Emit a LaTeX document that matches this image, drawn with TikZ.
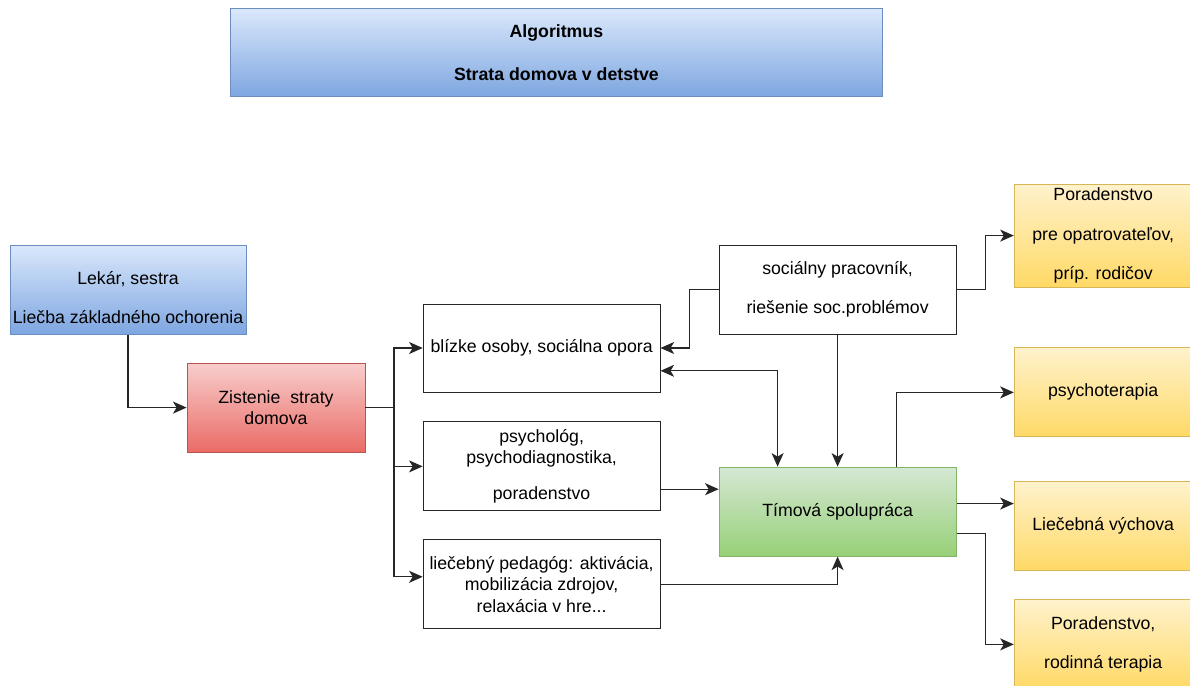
\documentclass[tikz,border=0pt]{standalone}
\usepackage{fontspec}
\setmainfont{Liberation Sans}
\usetikzlibrary{arrows.meta}
\definecolor{bluetop}{HTML}{DAE8FC}
\definecolor{bluebot}{HTML}{7EA6E0}
\definecolor{blueline}{HTML}{6C8EBF}
\definecolor{redtop}{HTML}{F8CECC}
\definecolor{redbot}{HTML}{EA6B66}
\definecolor{redline}{HTML}{B85450}
\definecolor{greentop}{HTML}{D5E8D4}
\definecolor{greenbot}{HTML}{97D077}
\definecolor{greenline}{HTML}{82B366}
\definecolor{yellowtop}{HTML}{FFF2CC}
\definecolor{yellowbot}{HTML}{FFD966}
\definecolor{yellowline}{HTML}{D6B656}
\newcommand\diafont{\fontsize{12.6}{15.3}\selectfont}
\begin{document}
\begin{tikzpicture}[font=\diafont, >={Stealth[length=0.34cm, width=0.3cm, inset=0.09cm]},
        box/.style={draw, align=center, minimum width=5.925cm, minimum height=2.225cm, inner sep=1pt, line width=0.6pt},
        whitebox/.style={box, draw=black!85},
        bluebox/.style={box, draw=blueline, top color=bluetop, bottom color=bluebot},
        redbox/.style={box, draw=redline, top color=redtop, bottom color=redbot, minimum width=4.45cm},
        greenbox/.style={box, draw=greenline, top color=greentop, bottom color=greenbot},
        yellowbox/.style={box, draw=yellowline, top color=yellowtop, bottom color=yellowbot, minimum width=4.45cm},
        line/.style={line width=0.8pt, draw=black!85},
        arr/.style={line, ->}, arr2/.style={line, <->}]
      \useasboundingbox (0,0) rectangle (29.75,17.15);
      \node[bluebox, minimum width=16.28cm, minimum height=2.2cm, font=\diafont\bfseries] (title) at (13.91,15.83) {Algoritmus\\[15.2pt]Strata domova v detstve};
      \node[bluebox, minimum width=5.9cm] (lekar) at (3.2,9.91) {\rule{0pt}{21pt}Lekár, sestra\\[12.6pt]Liečba základného ochorenia};
      \node[redbox] (zistenie) at (6.9,6.96) {Zistenie\ \ straty\\domova};
      \node[whitebox, minimum height=2.2cm] (blizke) at (13.54,8.45) {blízke osoby, sociálna opora};
      \node[whitebox] (psycholog) at (13.54,5.49) {psychológ,\\psychodiagnostika,\\[10.2pt]poradenstvo};
      \node[whitebox] (pedagog) at (13.54,2.54) {liečebný pedagóg: aktivácia,\\mobilizácia zdrojov,\\relaxácia v hre...};
      \node[whitebox] (socprac) at (20.94,9.91) {sociálny pracovník,\\[12.6pt]riešenie soc.problémov};
      \node[greenbox] (timova) at (20.94,4.36) {Tímová spolupráca};
      \node[yellowbox, minimum height=2.575cm] (poratr) at (27.58,11.26) {Poradenstvo\\[12.6pt]pre opatrovateľov,\\[12.6pt]príp. rodičov};
      \node[yellowbox] (psychoter) at (27.58,7.34) {psychoterapia};
      \node[yellowbox] (liecvych) at (27.58,4.0) {Liečebná výchova};
      \node[yellowbox] (rodter) at (27.58,1.04) {Poradenstvo,\\[12.6pt]rodinná terapia};
      % left part
      \coordinate (split) at (9.85,6.96);
      \draw[arr] (lekar.south) |- (zistenie.west);
      \draw[line] (zistenie.east) -- (split);
      \draw[arr] (split) |- (blizke.west);
      \draw[arr] (split) |- (psycholog.west);
      \draw[arr] (split) |- ([yshift=0.19cm]pedagog.west);
      % into the team
      \draw[arr] (socprac.west) -- ++(-0.73,0) |- (blizke.east);
      \draw[arr2] ([yshift=-0.57cm]blizke.east) -| ([xshift=-1.5cm]timova.north);
      \draw[arr] (socprac.south) -- (timova.north);
      \coordinate (psyout) at ([yshift=-0.57cm]psycholog.east);
      \draw[arr] (psyout) -- (psyout -| timova.west);
      \draw[arr] (pedagog.east) -| (timova.south);
      % right part
      \draw[arr] (socprac.east) -- ++(0.73,0) |- (poratr.west);
      \draw[arr] ([xshift=1.48cm]timova.north) |- (psychoter.west);
      \coordinate (timout) at ([yshift=0.2cm]timova.east);
      \draw[arr] (timout) -- (timout -| liecvych.west);
      \draw[arr] ([yshift=-0.55cm]timova.east) -- ++(0.73,0) |- (rodter.west);
\end{tikzpicture}
\end{document}
